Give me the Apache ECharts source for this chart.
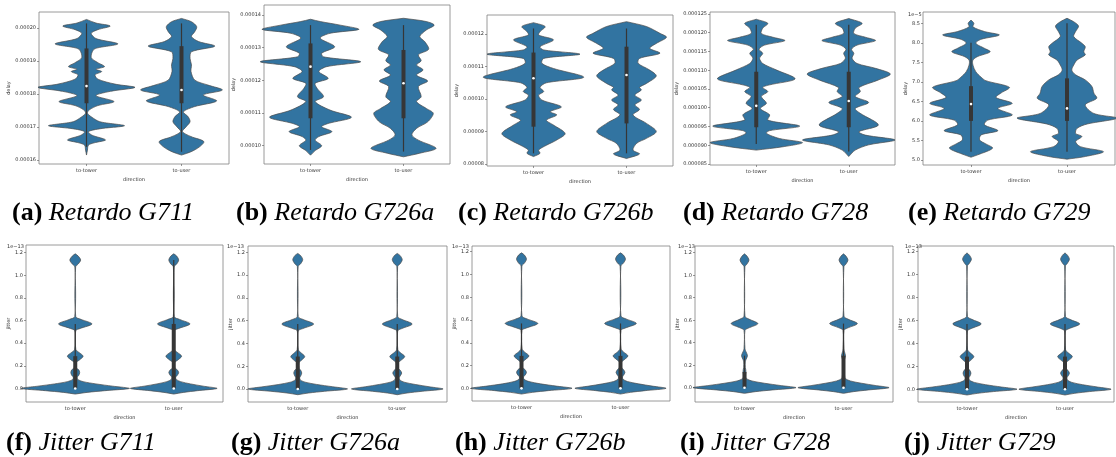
<!DOCTYPE html>
<html>
<head>
<meta charset="utf-8">
<script src="https://cdn.jsdelivr.net/npm/echarts@6.0.0/dist/echarts.min.js"></script>
<style>
  html, body { margin: 0; padding: 0; background: #fff; }
  #main { width: 1116px; height: 457px; }
</style>
</head>
<body>
<div id="main"></div>
<script>
// categories
var directions = ['to-tower', 'to-user'];

// delay is kept in units of 1e-5 s, jitter in units of 1e-13 s
// violin profiles: [value, half width as share of the category band]
// boxes: [low whisker, q1, median, q3, high whisker]

// ---- (a) Retardo G711 ----
var g711DelayTicks = [16, 17, 18, 19, 20];
var g711DelayTower = [[20.26,0],[20.15,0.10],[20.06,0.25],[19.95,0.12],[19.84,0.05],[19.68,0.10],[19.52,0.33],[19.40,0.12],[19.33,0.07],[19.10,0.05],[18.95,0.12],[18.83,0.19],[18.75,0.10],[18.68,0.16],[18.58,0.09],[18.45,0.12],[18.30,0.30],[18.20,0.51],[18.08,0.25],[17.95,0.10],[17.77,0.29],[17.65,0.12],[17.52,0.03],[17.42,0.01],[17.31,0.05],[17.16,0.14],[17.04,0.40],[16.95,0.15],[16.86,0.02],[16.75,0.06],[16.61,0.20],[16.52,0.08],[16.45,0.02],[16.30,0.01],[16.15,0]];
var g711DelayUser = [[20.29,0],[20.19,0.105],[20.04,0.16],[19.89,0.14],[19.74,0.105],[19.59,0.18],[19.45,0.35],[19.28,0.105],[19.08,0.09],[18.88,0.105],[18.68,0.10],[18.42,0.14],[18.27,0.28],[18.12,0.43],[17.97,0.23],[17.79,0.37],[17.62,0.14],[17.46,0.02],[17.31,0.07],[17.16,0.09],[17.01,0.05],[16.86,0.01],[16.71,0.10],[16.56,0.235],[16.40,0.19],[16.25,0.10],[16.15,0]];
var g711DelayTowerBox = [16.40, 17.72, 18.24, 19.38, 20.14];
var g711DelayUserBox = [16.25, 17.72, 18.12, 19.45, 20.14];

// ---- (b) Retardo G726a ----
var g726aDelayTicks = [10, 11, 12, 13, 14];
var g726aDelayTower = [[13.87,0],[13.80,0.105],[13.69,0.32],[13.56,0.52],[13.44,0.21],[13.29,0.105],[13.03,0.26],[12.83,0.12],[12.72,0.14],[12.57,0.54],[12.42,0.175],[12.27,0.09],[12.06,0.19],[11.91,0.05],[11.76,0.07],[11.50,0.14],[11.35,0.05],[11.09,0.21],[10.87,0.44],[10.68,0.19],[10.58,0.12],[10.43,0.23],[10.28,0.09],[10.17,0.05],[10.00,0.12],[9.85,0.05],[9.71,0]];
var g726aDelayUser = [[13.90,0],[13.80,0.245],[13.69,0.33],[13.54,0.245],[13.34,0.175],[13.18,0.23],[12.95,0.27],[12.78,0.16],[12.60,0.19],[12.47,0.14],[12.32,0.21],[12.16,0.14],[11.98,0.26],[11.81,0.16],[11.50,0.19],[11.35,0.14],[11.14,0.245],[10.99,0.32],[10.73,0.26],[10.53,0.14],[10.33,0.09],[10.17,0.16],[9.92,0.35],[9.77,0.175],[9.66,0]];
var g726aDelayTowerBox = [9.87, 10.84, 12.42, 13.13, 13.69];
var g726aDelayUserBox = [9.82, 10.84, 11.91, 12.93, 13.69];

// ---- (c) Retardo G726b ----
var g726bDelayTicks = [8, 9, 10, 11, 12];
var g726bDelayTower = [[12.35,0],[12.23,0.125],[12.07,0.07],[11.97,0.055],[11.82,0.215],[11.61,0.07],[11.51,0.11],[11.38,0.50],[11.25,0.11],[11.10,0.09],[10.94,0.215],[10.67,0.54],[10.50,0.14],[10.36,0.07],[10.23,0.11],[10.12,0.055],[9.97,0.09],[9.76,0.30],[9.61,0.18],[9.51,0.25],[9.35,0.14],[9.20,0.215],[8.94,0.34],[8.74,0.25],[8.58,0.14],[8.43,0.055],[8.33,0.07],[8.23,0]];
var g726bDelayUser = [[12.38,0],[12.23,0.215],[12.02,0.36],[11.90,0.43],[11.71,0.32],[11.56,0.25],[11.41,0.36],[11.25,0.14],[11.10,0.125],[10.89,0.25],[10.71,0.32],[10.48,0.215],[10.36,0.14],[10.28,0.16],[10.12,0.09],[9.97,0.16],[9.82,0.09],[9.68,0.14],[9.51,0.07],[9.25,0.215],[9.00,0.32],[8.79,0.215],[8.64,0.11],[8.43,0.07],[8.31,0.14],[8.17,0]];
var g726bDelayTowerBox = [8.33, 9.15, 10.64, 11.43, 12.17];
var g726bDelayUserBox = [8.33, 9.25, 10.74, 11.61, 12.17];

// ---- (d) Retardo G728 ----
var g728DelayTicks = [8.5, 9, 9.5, 10, 10.5, 11, 11.5, 12, 12.5];
var g728DelayTower = [[12.36,0],[12.25,0.125],[12.12,0.07],[11.98,0.055],[11.88,0.18],[11.79,0.31],[11.67,0.09],[11.56,0.03],[11.45,0.07],[11.32,0.036],[11.18,0.07],[11.01,0.215],[10.77,0.42],[10.61,0.145],[10.54,0.07],[10.43,0.125],[10.30,0.055],[10.12,0.11],[9.98,0.045],[9.81,0.145],[9.67,0.125],[9.51,0.47],[9.39,0.145],[9.32,0.11],[9.18,0.25],[9.07,0.50],[8.96,0.29],[8.87,0]];
var g728DelayUser = [[12.38,0],[12.25,0.145],[12.12,0.07],[11.98,0.055],[11.88,0.18],[11.79,0.29],[11.67,0.09],[11.56,0.03],[11.45,0.055],[11.32,0.036],[11.18,0.09],[11.05,0.29],[10.90,0.45],[10.74,0.32],[10.54,0.11],[10.43,0.125],[10.30,0.07],[10.14,0.215],[9.98,0.07],[9.85,0.125],[9.54,0.32],[9.36,0.11],[9.27,0.18],[9.14,0.50],[9.01,0.215],[8.87,0.07],[8.70,0]];
var g728DelayTowerBox = [9.03, 9.48, 10.05, 10.96, 12.21];
var g728DelayUserBox = [8.83, 9.48, 10.18, 10.96, 12.21];

// ---- (e) Retardo G729 ----
var g729DelayTicks = [5.0, 5.5, 6.0, 6.5, 7.0, 7.5, 8.0, 8.5];
var g729DelayTower = [[8.585,0],[8.50,0.03],[8.41,0.02],[8.29,0.14],[8.20,0.295],[8.09,0.105],[7.99,0.05],[7.86,0.14],[7.77,0.20],[7.65,0.07],[7.56,0.02],[7.43,0.02],[7.26,0.05],[7.12,0.105],[7.03,0.155],[6.86,0.40],[6.71,0.31],[6.60,0.26],[6.45,0.43],[6.32,0.28],[6.15,0.43],[6.02,0.175],[5.90,0.14],[5.75,0.28],[5.64,0.105],[5.51,0.09],[5.41,0.155],[5.30,0.225],[5.13,0.07],[5.07,0]];
var g729DelayUser = [[8.63,0],[8.54,0.07],[8.43,0.12],[8.29,0.09],[8.16,0.07],[7.99,0.155],[7.90,0.19],[7.77,0.175],[7.69,0.19],[7.56,0.105],[7.43,0.07],[7.30,0.05],[7.18,0.09],[7.05,0.19],[6.88,0.26],[6.71,0.28],[6.58,0.31],[6.41,0.19],[6.19,0.28],[6.07,0.52],[5.92,0.21],[5.81,0.105],[5.68,0.09],[5.60,0.155],[5.47,0.09],[5.34,0.14],[5.21,0.38],[5.08,0.175],[5.02,0]];
var g729DelayTowerBox = [5.21, 6.0, 6.43, 6.89, 8.0];
var g729DelayUserBox = [5.21, 6.0, 6.32, 7.09, 8.5];

// ---- jitter (f)-(j) ----
var jitterTicks = [0.0, 0.2, 0.4, 0.6, 0.8, 1.0, 1.2];
var g711JitterTower = [[1.19,0],[1.17,0.03],[1.135,0.055],[1.10,0.03],[1.075,0.004],[0.635,0.005],[0.61,0.06],[0.57,0.17],[0.53,0.05],[0.51,0.005],[0.345,0.006],[0.32,0.035],[0.285,0.08],[0.25,0.04],[0.23,0.01],[0.18,0.012],[0.165,0.035],[0.14,0.045],[0.115,0.035],[0.10,0.02],[0.08,0.025],[0.06,0.08],[0.04,0.21],[0.02,0.38],[0,0.55],[-0.02,0.30],[-0.035,0.12],[-0.05,0]];
var g711JitterUser = [[1.19,0],[1.17,0.03],[1.135,0.05],[1.10,0.03],[1.075,0.004],[0.635,0.005],[0.61,0.06],[0.57,0.165],[0.53,0.05],[0.51,0.005],[0.345,0.006],[0.32,0.035],[0.285,0.08],[0.25,0.04],[0.23,0.01],[0.18,0.012],[0.165,0.035],[0.14,0.05],[0.115,0.035],[0.10,0.02],[0.08,0.025],[0.06,0.07],[0.04,0.17],[0.02,0.30],[0,0.44],[-0.02,0.24],[-0.035,0.10],[-0.05,0]];
var g711JitterTowerBox = [0, 0, 0, 0.285, 0.57];
var g711JitterUserBox = [0, 0, 0, 0.57, 1.135];

var g726aJitterTower = [[1.19,0],[1.17,0.03],[1.135,0.05],[1.10,0.03],[1.075,0.004],[0.635,0.005],[0.61,0.055],[0.57,0.16],[0.53,0.05],[0.51,0.005],[0.345,0.006],[0.32,0.03],[0.285,0.07],[0.25,0.035],[0.23,0.01],[0.18,0.012],[0.165,0.03],[0.14,0.04],[0.115,0.03],[0.10,0.02],[0.08,0.025],[0.06,0.075],[0.04,0.19],[0.02,0.35],[0,0.50],[-0.02,0.27],[-0.035,0.11],[-0.05,0]];
var g726aJitterUser = [[1.19,0],[1.17,0.03],[1.135,0.05],[1.10,0.03],[1.075,0.004],[0.635,0.005],[0.61,0.05],[0.57,0.15],[0.53,0.045],[0.51,0.005],[0.345,0.006],[0.32,0.03],[0.285,0.075],[0.25,0.035],[0.23,0.01],[0.18,0.012],[0.165,0.03],[0.14,0.045],[0.115,0.03],[0.10,0.02],[0.08,0.025],[0.06,0.07],[0.04,0.18],[0.02,0.32],[0,0.46],[-0.02,0.25],[-0.035,0.10],[-0.05,0]];
var g726aJitterTowerBox = [0, 0, 0, 0.285, 0.57];
var g726aJitterUserBox = [0, 0, 0, 0.285, 0.57];

var g726bJitterTower = [[1.19,0],[1.17,0.03],[1.135,0.05],[1.10,0.03],[1.075,0.004],[0.635,0.005],[0.61,0.055],[0.57,0.165],[0.53,0.05],[0.51,0.005],[0.345,0.006],[0.32,0.03],[0.285,0.075],[0.25,0.035],[0.23,0.01],[0.18,0.012],[0.165,0.035],[0.14,0.05],[0.115,0.035],[0.10,0.02],[0.08,0.025],[0.06,0.075],[0.04,0.19],[0.02,0.35],[0,0.51],[-0.02,0.27],[-0.035,0.11],[-0.05,0]];
var g726bJitterUser = [[1.19,0],[1.17,0.03],[1.135,0.05],[1.10,0.03],[1.075,0.004],[0.635,0.005],[0.61,0.055],[0.57,0.16],[0.53,0.05],[0.51,0.005],[0.345,0.006],[0.32,0.03],[0.285,0.075],[0.25,0.035],[0.23,0.01],[0.18,0.012],[0.165,0.03],[0.14,0.045],[0.115,0.03],[0.10,0.02],[0.08,0.025],[0.06,0.07],[0.04,0.18],[0.02,0.32],[0,0.46],[-0.02,0.25],[-0.035,0.10],[-0.05,0]];
var g726bJitterTowerBox = [0, 0, 0, 0.285, 0.57];
var g726bJitterUserBox = [0, 0, 0, 0.285, 0.57];

var g728JitterTower = [[1.19,0],[1.17,0.025],[1.135,0.045],[1.10,0.025],[1.075,0.004],[0.635,0.005],[0.61,0.045],[0.57,0.135],[0.53,0.04],[0.51,0.005],[0.345,0.005],[0.32,0.015],[0.285,0.03],[0.25,0.015],[0.23,0.008],[0.18,0.008],[0.165,0.012],[0.14,0.015],[0.115,0.012],[0.10,0.012],[0.08,0.02],[0.06,0.075],[0.04,0.20],[0.02,0.36],[0,0.52],[-0.02,0.28],[-0.035,0.11],[-0.05,0]];
var g728JitterUser = [[1.19,0],[1.17,0.025],[1.135,0.045],[1.10,0.025],[1.075,0.004],[0.635,0.005],[0.61,0.045],[0.57,0.14],[0.53,0.04],[0.51,0.005],[0.345,0.005],[0.32,0.01],[0.285,0.02],[0.25,0.01],[0.23,0.008],[0.18,0.008],[0.165,0.01],[0.14,0.01],[0.115,0.01],[0.10,0.012],[0.08,0.02],[0.06,0.07],[0.04,0.18],[0.02,0.32],[0,0.46],[-0.02,0.25],[-0.035,0.10],[-0.05,0]];
var g728JitterTowerBox = [0, 0, 0, 0.14, 0.285];
var g728JitterUserBox = [0, 0, 0, 0.285, 0.57];

var g729JitterTower = [[1.19,0],[1.17,0.025],[1.135,0.045],[1.10,0.025],[1.075,0.004],[0.635,0.005],[0.61,0.05],[0.57,0.145],[0.53,0.045],[0.51,0.005],[0.345,0.006],[0.32,0.03],[0.285,0.07],[0.25,0.035],[0.23,0.01],[0.18,0.012],[0.165,0.03],[0.14,0.04],[0.115,0.03],[0.10,0.02],[0.08,0.025],[0.06,0.075],[0.04,0.19],[0.02,0.35],[0,0.51],[-0.02,0.27],[-0.035,0.11],[-0.05,0]];
var g729JitterUser = [[1.19,0],[1.17,0.025],[1.135,0.045],[1.10,0.025],[1.075,0.004],[0.635,0.005],[0.61,0.05],[0.57,0.15],[0.53,0.045],[0.51,0.005],[0.345,0.006],[0.32,0.03],[0.285,0.075],[0.25,0.035],[0.23,0.01],[0.18,0.012],[0.165,0.03],[0.14,0.045],[0.115,0.03],[0.10,0.02],[0.08,0.025],[0.06,0.07],[0.04,0.18],[0.02,0.33],[0,0.47],[-0.02,0.25],[-0.035,0.10],[-0.05,0]];
var g729JitterTowerBox = [0, 0, 0, 0.285, 0.57];
var g729JitterUserBox = [0, 0, 0, 0.285, 0.57];

// ---- panel layout ----
var panels = [
    { grid: { left: 39, top: 12, width: 190, height: 152 }, min: 15.879, max: 20.485, ticks: g711DelayTicks, fmt: function (v) { return (v * 1e-5).toFixed(5); }, name: 'delay', nameGap: 26, violins: [g711DelayTower, g711DelayUser], boxes: [g711DelayTowerBox, g711DelayUserBox] },
    { grid: { left: 264, top: 5, width: 186, height: 159 }, min: 9.44, max: 14.306, ticks: g726aDelayTicks, fmt: function (v) { return (v * 1e-5).toFixed(5); }, name: 'delay', nameGap: 26, violins: [g726aDelayTower, g726aDelayUser], boxes: [g726aDelayTowerBox, g726aDelayUserBox] },
    { grid: { left: 487, top: 15, width: 186, height: 151 }, min: 7.94, max: 12.585, ticks: g726bDelayTicks, fmt: function (v) { return (v * 1e-5).toFixed(5); }, name: 'delay', nameGap: 26, violins: [g726bDelayTower, g726bDelayUser], boxes: [g726bDelayTowerBox, g726bDelayUserBox] },
    { grid: { left: 710, top: 12, width: 185, height: 153 }, min: 8.473, max: 12.553, ticks: g728DelayTicks, fmt: function (v) { return (v * 1e-5).toFixed(6); }, name: 'delay', nameGap: 28, violins: [g728DelayTower, g728DelayUser], boxes: [g728DelayTowerBox, g728DelayUserBox] },
    { grid: { left: 923, top: 12, width: 192, height: 153 }, min: 4.87, max: 8.79, ticks: g729DelayTicks, fmt: function (v) { return v.toFixed(1); }, name: 'delay', nameGap: 14, violins: [g729DelayTower, g729DelayUser], boxes: [g729DelayTowerBox, g729DelayUserBox] },
    { grid: { left: 26, top: 245, width: 197, height: 157 }, min: -0.12, max: 1.268, ticks: jitterTicks, fmt: function (v) { return v.toFixed(1); }, name: 'jitter', nameGap: 14, violins: [g711JitterTower, g711JitterUser], boxes: [g711JitterTowerBox, g711JitterUserBox] },
    { grid: { left: 248, top: 246, width: 199, height: 156 }, min: -0.114, max: 1.255, ticks: jitterTicks, fmt: function (v) { return v.toFixed(1); }, name: 'jitter', nameGap: 14, violins: [g726aJitterTower, g726aJitterUser], boxes: [g726aJitterTowerBox, g726aJitterUserBox] },
    { grid: { left: 472, top: 246, width: 198, height: 155 }, min: -0.111, max: 1.25, ticks: jitterTicks, fmt: function (v) { return v.toFixed(1); }, name: 'jitter', nameGap: 14, violins: [g726bJitterTower, g726bJitterUser], boxes: [g726bJitterTowerBox, g726bJitterUserBox] },
    { grid: { left: 695, top: 246, width: 198, height: 156 }, min: -0.127, max: 1.26, ticks: jitterTicks, fmt: function (v) { return v.toFixed(1); }, name: 'jitter', nameGap: 14, violins: [g728JitterTower, g728JitterUser], boxes: [g728JitterTowerBox, g728JitterUserBox] },
    { grid: { left: 918, top: 246, width: 196, height: 156 }, min: -0.111, max: 1.25, ticks: jitterTicks, fmt: function (v) { return v.toFixed(1); }, name: 'jitter', nameGap: 14, violins: [g729JitterTower, g729JitterUser], boxes: [g729JitterTowerBox, g729JitterUserBox] }
];

var captions = [
    { x: 12, y: 213, tag: '(a) ', text: 'Retardo G711' },
    { x: 236, y: 213, tag: '(b) ', text: 'Retardo G726a' },
    { x: 458, y: 213, tag: '(c) ', text: 'Retardo G726b' },
    { x: 683, y: 213, tag: '(d) ', text: 'Retardo G728' },
    { x: 908, y: 213, tag: '(e) ', text: 'Retardo G729' },
    { x: 6, y: 443, tag: '(f) ', text: 'Jitter G711' },
    { x: 231, y: 443, tag: '(g) ', text: 'Jitter G726a' },
    { x: 455, y: 443, tag: '(h) ', text: 'Jitter G726b' },
    { x: 680, y: 443, tag: '(i) ', text: 'Jitter G728' },
    { x: 904, y: 443, tag: '(j) ', text: 'Jitter G729' }
];

var offsetTexts = [
    { x: 908, y: 15, text: '1e\u22125' },
    { x: 7, y: 247, text: '1e\u221213' },
    { x: 227, y: 247, text: '1e\u221213' },
    { x: 452, y: 247, text: '1e\u221213' },
    { x: 678, y: 247, text: '1e\u221213' },
    { x: 905, y: 247, text: '1e\u221213' }
];

var tickFont = 'DejaVu Sans';
var fillColor = '#3274a1';
var edgeColor = '#4a4a4a';
var innerColor = '#363636';

// 画小提琴
function violinRenderer(panel) {
    return function (params, api) {
        var cat = api.value(0);
        var prof = panel.violins[cat];
        var box = panel.boxes[cat];
        var band = api.size([1, 0])[0];
        var right = [], left = [];
        prof.forEach(function (p) {
            var c = api.coord([cat, p[0]]);
            right.push([c[0] + p[1] * band, c[1]]);
            left.unshift([c[0] - p[1] * band, c[1]]);
        });
        var cx = api.coord([cat, box[2]])[0];
        var lo = api.coord([cat, box[0]])[1];
        var q1 = api.coord([cat, box[1]])[1];
        var med = api.coord([cat, box[2]])[1];
        var q3 = api.coord([cat, box[3]])[1];
        var hi = api.coord([cat, box[4]])[1];
        return {
            type: 'group',
            children: [
                { type: 'polygon', shape: { points: right.concat(left), smooth: 0.3 }, style: { fill: fillColor, stroke: edgeColor, lineWidth: 0.7 } },
                { type: 'line', shape: { x1: cx, y1: hi, x2: cx, y2: lo }, style: { stroke: innerColor, lineWidth: 1.2 } },
                { type: 'rect', shape: { x: cx - 2, y: q3, width: 4, height: q1 - q3 }, style: { fill: innerColor } },
                { type: 'circle', shape: { cx: cx, cy: med, r: 1.3 }, style: { fill: '#fff' } }
            ]
        };
    };
}

var option = {
    animation: false,
    backgroundColor: '#fff',
    grid: [], xAxis: [], yAxis: [], series: [], graphic: []
};

panels.forEach(function (p, i) {
    option.grid.push({
        left: p.grid.left, top: p.grid.top, width: p.grid.width, height: p.grid.height,
        show: true, borderColor: '#808080', borderWidth: 0.8, backgroundColor: '#fff'
    });
    option.xAxis.push({
        type: 'category', gridIndex: i, data: directions,
        name: 'direction', nameLocation: 'middle', nameGap: 13,
        nameTextStyle: { fontFamily: tickFont, fontSize: 5, color: '#333' },
        axisLine: { show: false },
        axisTick: { show: true, alignWithLabel: true, length: 2, lineStyle: { color: '#555', width: 0.6 } },
        axisLabel: { fontFamily: tickFont, fontSize: 5, color: '#333', margin: 4, interval: 0 },
        splitLine: { show: false }
    });
    option.yAxis.push({
        type: 'value', gridIndex: i, min: p.min, max: p.max,
        name: p.name, nameLocation: 'middle', nameGap: p.nameGap, nameRotate: 90,
        nameTextStyle: { fontFamily: tickFont, fontSize: 5, color: '#333' },
        axisLine: { show: false },
        axisTick: { show: true, length: 2, customValues: p.ticks, lineStyle: { color: '#555', width: 0.6 } },
        axisLabel: { fontFamily: tickFont, fontSize: 5, color: '#333', margin: 3, customValues: p.ticks, formatter: p.fmt },
        splitLine: { show: false }
    });
    option.series.push({
        type: 'custom', xAxisIndex: i, yAxisIndex: i, silent: true, clip: false,
        data: [[0, p.boxes[0][2]], [1, p.boxes[1][2]]],
        encode: { x: 0, y: 1 },
        renderItem: violinRenderer(p)
    });
});

captions.forEach(function (c) {
    option.graphic.push({
        type: 'text', x: c.x, y: c.y, silent: true,
        style: {
            text: '{b|' + c.tag + '}{i|' + c.text + '}',
            verticalAlign: 'middle',
            fill: '#000',
            rich: {
                b: { fontFamily: 'Liberation Serif', fontWeight: 'bold', fontSize: 26, fill: '#000' },
                i: { fontFamily: 'Liberation Serif', fontStyle: 'italic', fontSize: 26, fill: '#000' }
            }
        }
    });
});

offsetTexts.forEach(function (t) {
    option.graphic.push({
        type: 'text', x: t.x, y: t.y, silent: true,
        style: { text: t.text, font: '5px "DejaVu Sans"', fill: '#333', verticalAlign: 'middle' }
    });
});

var myChart = echarts.init(document.getElementById('main'));
myChart.setOption(option);
</script>
</body>
</html>
